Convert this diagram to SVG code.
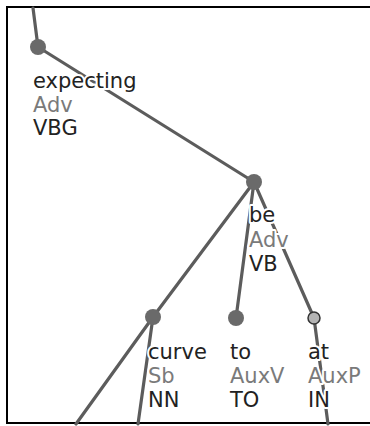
<svg xmlns="http://www.w3.org/2000/svg" width="370" height="426" viewBox="0 0 370 426">
  <style>
    .edge { stroke: #5c5c5c; stroke-width: 3.2; fill: none; stroke-linecap: round; }
    .node { fill: #6a6a6a; }
    .node-light { fill: #b4b4b4; stroke: #333; stroke-width: 1.5; }
    text { font-family: "DejaVu Sans", Verdana, sans-serif; font-size: 21px; paint-order: stroke; stroke: #fff; stroke-width: 4px; stroke-linejoin: round; }
    .form { fill: #222; }
    .afun { fill: #7a7a7a; }
    .tag { fill: #222; }
  </style>
  <rect x="0" y="0" width="370" height="426" fill="#fff"/>
  <rect x="7" y="7" width="400" height="416" fill="none" stroke="#000" stroke-width="2"/>
  <g id="connectors">
    <line class="edge" x1="33" y1="8" x2="38" y2="47"/>
    <line class="edge" x1="38" y1="47" x2="254" y2="182"/>
    <line class="edge" x1="254" y1="182" x2="153" y2="317"/>
    <line class="edge" x1="254" y1="182" x2="236" y2="318"/>
    <line class="edge" x1="254" y1="182" x2="314" y2="318"/>
    <line class="edge" x1="153" y1="317" x2="76" y2="424"/>
    <line class="edge" x1="153" y1="317" x2="138" y2="424"/>
    <line class="edge" x1="314" y1="318" x2="328" y2="424"/>
  </g>
  <g id="node-expecting">
    <circle class="node" cx="38" cy="47" r="8"/>
    <text x="33" y="88"><tspan class="form">expecting</tspan><tspan class="afun" x="33" dy="23.5">Adv</tspan><tspan class="tag" x="33" dy="23.5">VBG</tspan></text>
  </g>
  <g id="node-be">
    <circle class="node" cx="254" cy="182" r="8"/>
    <text x="249" y="222"><tspan class="form">be</tspan><tspan class="afun" x="249" dy="24.5">Adv</tspan><tspan class="tag" x="249" dy="24.5">VB</tspan></text>
  </g>
  <g id="node-curve">
    <circle class="node" cx="153" cy="317" r="8"/>
    <text x="148" y="359"><tspan class="form">curve</tspan><tspan class="afun" x="148" dy="24">Sb</tspan><tspan class="tag" x="148" dy="24">NN</tspan></text>
  </g>
  <g id="node-to">
    <circle class="node" cx="236" cy="318" r="8"/>
    <text x="230" y="359"><tspan class="form">to</tspan><tspan class="afun" x="230" dy="24">AuxV</tspan><tspan class="tag" x="230" dy="24">TO</tspan></text>
  </g>
  <g id="node-at">
    <circle class="node-light" cx="314" cy="318" r="6"/>
    <text x="308" y="359"><tspan class="form">at</tspan><tspan class="afun" x="308" dy="24">AuxP</tspan><tspan class="tag" x="308" dy="24">IN</tspan></text>
  </g>
</svg>
